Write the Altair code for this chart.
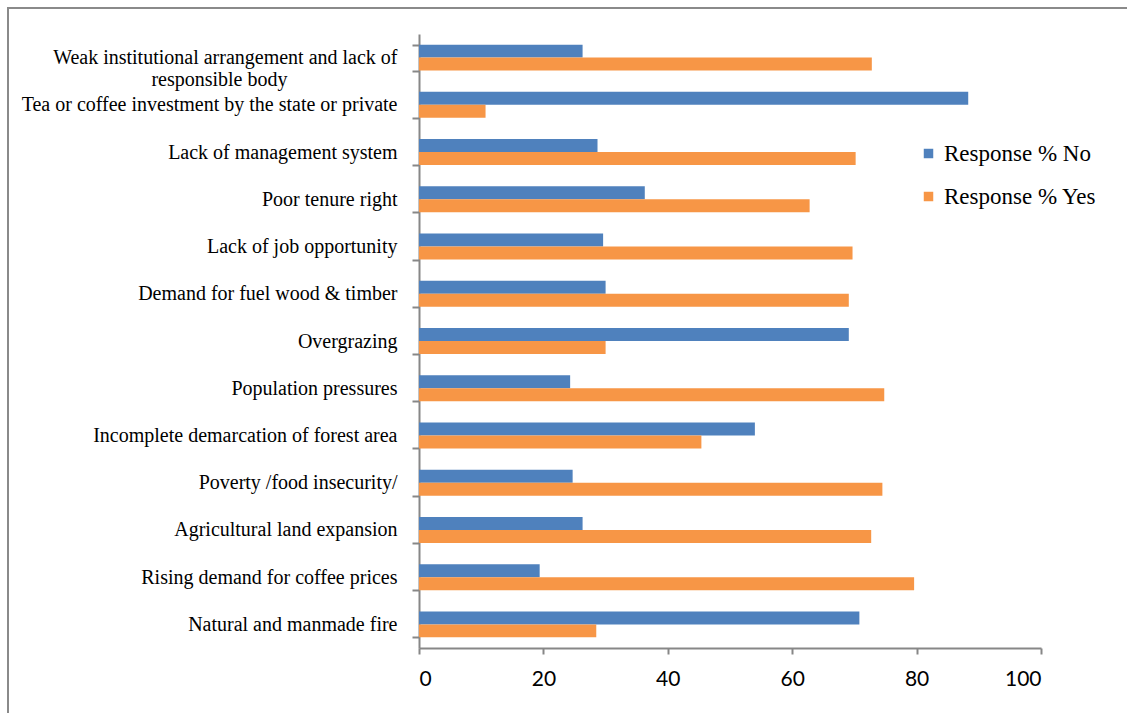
import altair as alt
import pandas as pd

categories = [
    "Weak institutional arrangement and lack of responsible body",
    "Tea or coffee investment by the state or private",
    "Lack of management system",
    "Poor tenure right",
    "Lack of job opportunity",
    "Demand for fuel wood & timber",
    "Overgrazing",
    "Population pressures",
    "Incomplete demarcation of forest area",
    "Poverty /food insecurity/",
    "Agricultural land expansion",
    "Rising demand for coffee prices",
    "Natural and manmade fire",
]
response_no = [26.3, 88.3, 28.7, 36.3, 29.6, 30.0, 69.1, 24.3, 54.0, 24.7, 26.3, 19.4, 70.8]
response_yes = [72.8, 10.7, 70.2, 62.8, 69.7, 69.1, 30.0, 74.8, 45.4, 74.5, 72.7, 79.6, 28.5]
series = ["Response % No", "Response % Yes"]
colors = ["#4F81BD", "#F79646"]
x_ticks = [0, 20, 40, 60, 80, 100]

rows = []
for c, n, y in zip(categories, response_no, response_yes):
    rows.append({"cause": c, "series": series[0], "value": n})
    rows.append({"cause": c, "series": series[1], "value": y})
df = pd.DataFrame(rows)

FONT = "Liberation Serif"
AXIS_GRAY = "#878787"

label_expr = (
    "datum.label == 'Weak institutional arrangement and lack of responsible body' ? "
    "['Weak institutional arrangement and lack of', "
    "'responsible body" + "\u00a0" * 22 + "\u200b'] : datum.label"
)

bars = alt.Chart(df).mark_bar().encode(
    y=alt.Y(
        "cause:N",
        sort=categories,
        scale=alt.Scale(paddingInner=0.45, paddingOuter=0.225),
        axis=alt.Axis(
            title=None,
            labelFont=FONT,
            labelFontSize=20,
            labelColor="#000000",
            labelPadding=15,
            labelLimit=420,
            labelExpr=label_expr,
            labelLineHeight=22,
            tickBand="extent",
            tickSize=7,
            tickWidth=2,
            tickColor=AXIS_GRAY,
            domainColor=AXIS_GRAY,
            domainWidth=2,
        ),
    ),
    yOffset=alt.YOffset(
        "series:N",
        sort=series,
        scale=alt.Scale(paddingInner=0, paddingOuter=0),
    ),
    x=alt.X(
        "value:Q",
        scale=alt.Scale(domain=[0, 100], nice=False),
        axis=alt.Axis(
            title=None,
            values=x_ticks,
            grid=False,
            labelFont="Lato",
            labelFontSize=21,
            labelColor="#000000",
            labelPadding=14,
            tickSize=6,
            tickWidth=2,
            tickColor=AXIS_GRAY,
            domainColor=AXIS_GRAY,
            domainWidth=2,
        ),
    ),
    color=alt.Color(
        "series:N",
        sort=series,
        scale=alt.Scale(domain=series, range=colors),
        legend=alt.Legend(
            title=None,
            orient="none",
            legendX=498,
            legendY=108,
            symbolType="square",
            symbolSize=90,
            symbolStrokeWidth=0,
            labelFont=FONT,
            labelFontSize=23,
            labelColor="#000000",
            labelOffset=4,
            rowPadding=19,
        ),
    ),
)

frame = alt.Chart(pd.DataFrame({"k": [0]})).mark_rect(
    fillOpacity=0, stroke="#8a8a8a", strokeWidth=2
).encode(
    x=alt.value(-411), x2=alt.value(760),
    y=alt.value(-26), y2=alt.value(720),
)

chart = alt.layer(frame, bars).properties(
    width=622,
    height=614,
    background="#ffffff",
    autosize=alt.AutoSizeParams(type="none"),
    padding={"left": 419, "top": 34, "right": 86, "bottom": 65},
).configure_view(stroke="transparent", strokeWidth=0)

chart.save("out.html", embed_options={"renderer": "svg", "actions": False})
